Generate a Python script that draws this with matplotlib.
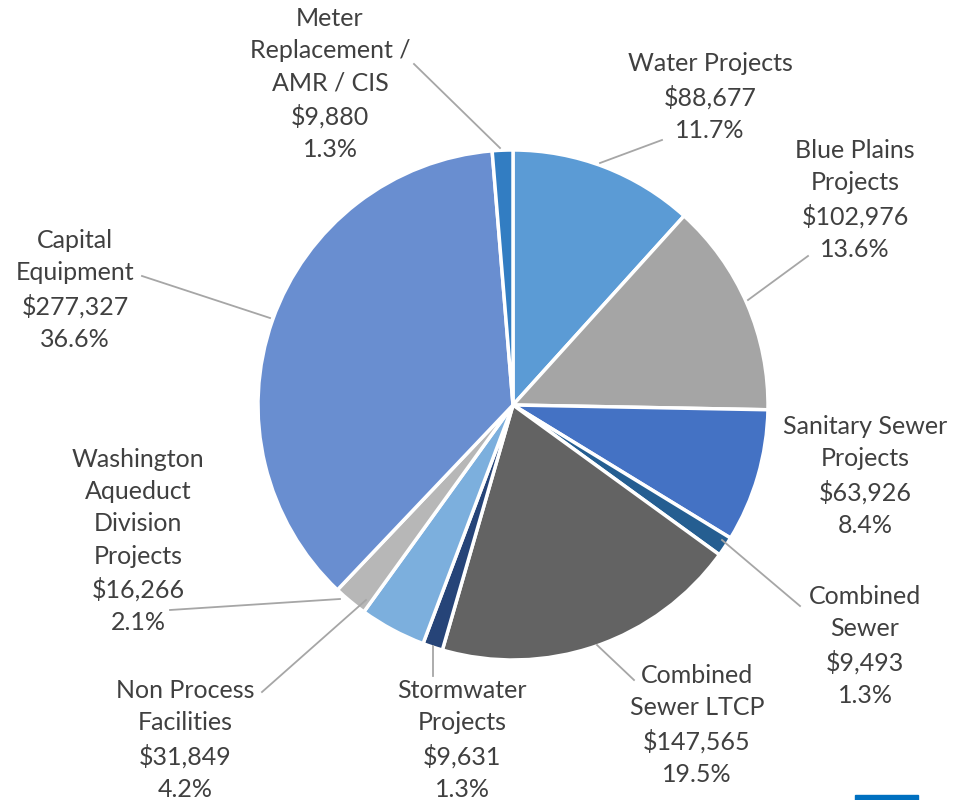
import matplotlib
matplotlib.use('Agg')
import matplotlib.pyplot as plt
from matplotlib.patches import Rectangle

plt.rcParams['font.family'] = ['Lato', 'DejaVu Sans']

# capital spending by program (thousands $)
names = ['Water Projects', 'Blue Plains Projects', 'Sanitary Sewer Projects',
         'Combined Sewer', 'Combined Sewer LTCP', 'Stormwater Projects',
         'Non Process Facilities', 'Washington Aqueduct Division Projects',
         'Capital Equipment', 'Meter Replacement / AMR / CIS']
label_names = ['Water Projects', 'Blue Plains\nProjects', 'Sanitary Sewer\nProjects',
               'Combined\nSewer', 'Combined\nSewer LTCP', 'Stormwater\nProjects',
               'Non Process\nFacilities', 'Washington\nAqueduct\nDivision\nProjects',
               'Capital\nEquipment', 'Meter\nReplacement /\nAMR / CIS']
values = [88677, 102976, 63926, 9493, 147565, 9631, 31849, 16266, 277327, 9880]
colors = ['#5B9BD5', '#A5A5A5', '#4472C4', '#255E91', '#636363',
          '#264478', '#7CAFDD', '#B7B7B7', '#698ED0', '#327DC2']

# label placement in pixel coords (x, y from top) and leader lines
label_pos = [(710, 97), (855, 200), (865, 476), (865, 646), (697, 725),
             (462, 740), (185, 740), (138, 541), (75, 290), (330, 84)]
leaders = [[(600, 163), (662, 140)], [(748, 300), (808, 256)], None,
           [(722, 540), (800, 606)], [(597, 645), (634, 680)],
           [(433, 646), (433, 676)], [(366, 600), (262, 692)],
           [(340, 599), (170, 610)], [(270, 318), (142, 276)],
           [(500, 148), (414, 64)]]

W, H = 955, 800
fig = plt.figure(figsize=(9.55, 8), dpi=100)
ax = fig.add_axes([0, 0, 1, 1])

total = sum(values)
ax.pie(values, colors=colors, startangle=90, counterclock=False,
       center=(513, H - 405), radius=255, frame=True,
       wedgeprops=dict(edgecolor='white', linewidth=2.5))

for name, v, (px, py), ld in zip(label_names, values, label_pos, leaders):
    txt = f'{name}\n${v:,}\n{v / total * 100:.1f}%'
    ax.text(px, H - py, txt, ha='center', va='center', fontsize=18,
            color='#404040', linespacing=1.49)
    if ld:
        ax.plot([ld[0][0], ld[1][0]], [H - ld[0][1], H - ld[1][1]],
                color='#A6A6A6', linewidth=1.3)

ax.add_patch(Rectangle((855, 0), 63, 5, color='#0070C0', clip_on=False))

ax.set_xlim(0, W)
ax.set_ylim(0, H)
ax.set_aspect('equal')
ax.axis('off')

fig.savefig('out.png', dpi=100)
